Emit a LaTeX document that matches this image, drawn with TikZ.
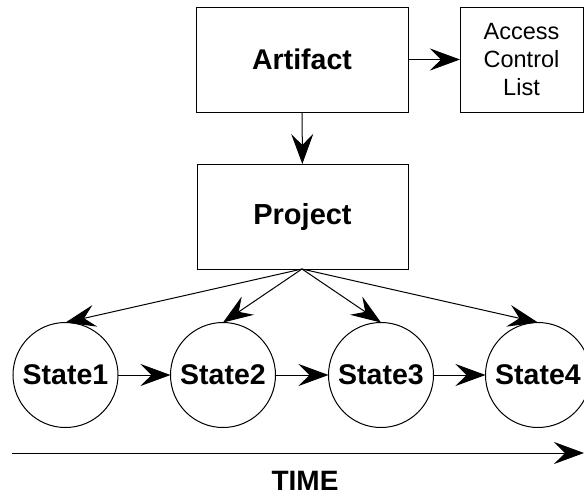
\documentclass[tikz,border=0pt]{standalone}
\usepackage{fontspec}
\setmainfont{Liberation Sans}
\usetikzlibrary{arrows.meta}
\begin{document}
\begin{tikzpicture}[x=1pt,y=-1pt,
  box/.style={draw,line width=1pt,rectangle,inner sep=0pt,outer sep=0pt,align=center},
  statenode/.style={draw,line width=1pt,circle,minimum size=105pt,inner sep=0pt,outer sep=0pt,font=\fontsize{28.5}{30}\selectfont\bfseries},
  arr/.style={line width=1pt,-{Stealth[length=30pt,width=22pt,inset=11pt]}}]
\useasboundingbox (0,0) rectangle (584,496);
\node[box,minimum width=212pt,minimum height=105pt,font=\fontsize{28.5}{30}\selectfont\bfseries] (art) at (302,59.5) {Artifact};
\node[box,minimum width=123pt,minimum height=105pt,font=\fontsize{23.5}{28}\selectfont] (acl) at (521.5,59.5) {Access\\Control\\List};
\node[box,minimum width=211pt,minimum height=105pt,font=\fontsize{29}{30}\selectfont\bfseries] (proj) at (302.5,216.5) {Project};
\node[statenode] (s1) at (65.5,375) {State1};
\node[statenode] (s2) at (223,375) {State2};
\node[statenode] (s3) at (381,375) {State3};
\node[statenode] (s4) at (538,375) {State4};
\draw[arr] (art) -- (acl);
\draw[arr] (art) -- (proj);
\coordinate (fan) at (302,269);
\foreach \s in {s1,s2,s3,s4} {\draw[arr] (fan) -- (\s.north);}
\draw[arr] (s1) -- (s2);
\draw[arr] (s2) -- (s3);
\draw[arr] (s3) -- (s4);
\coordinate (t0) at (12,453);
\coordinate (t1) at (584,453);
\draw[arr] (t0) -- (t1);
\node[font=\fontsize{28}{30}\selectfont\bfseries] (time) at (305,481) {TIME};
\end{tikzpicture}
\end{document}
